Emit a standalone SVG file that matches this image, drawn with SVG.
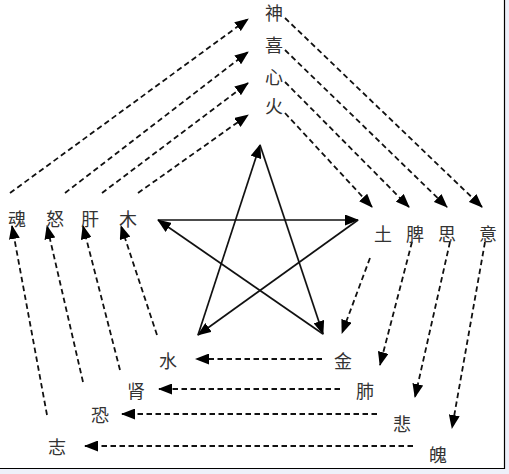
<svg xmlns="http://www.w3.org/2000/svg" width="509" height="474" viewBox="0 0 509 474">
<style>
text{font-family:"Noto Sans CJK SC","Noto Sans CJK JP",sans-serif;font-size:18px;fill:#333;text-anchor:middle;dominant-baseline:central}
.s{stroke:#111;stroke-width:1.7;fill:none}
.d{stroke:#111;stroke-width:1.8;fill:none;stroke-dasharray:5.5,3.5}
</style>
<defs>
<marker id="ah" viewBox="0 0 14 11" refX="13" refY="5.5" markerWidth="14" markerHeight="11" markerUnits="userSpaceOnUse" orient="auto"><path d="M0,0 L14,5.5 L0,11 z" fill="#000"/></marker>
</defs>
<rect width="509" height="474" fill="#eef0fa"/>
<rect width="504.5" height="468" fill="#fff"/>
<path d="M504.5,0 V468.5 H0" stroke="#000" stroke-width="1.2" fill="none"/>
<g id="connectors">
<g id="star">
<line class="s" x1="158" y1="220" x2="358" y2="220" marker-end="url(#ah)"/>
<line class="s" x1="358" y1="220" x2="198" y2="335" marker-end="url(#ah)"/>
<line class="s" x1="198" y1="335" x2="260" y2="145" marker-end="url(#ah)"/>
<line class="s" x1="260" y1="145" x2="323" y2="334" marker-end="url(#ah)"/>
<line class="s" x1="323" y1="334" x2="158" y2="220" marker-end="url(#ah)"/>
</g>
<g id="dashed">
<line class="d" x1="10" y1="193" x2="248" y2="19" marker-end="url(#ah)"/>
<line class="d" x1="65" y1="193" x2="248" y2="52" marker-end="url(#ah)"/>
<line class="d" x1="102" y1="193" x2="248" y2="83" marker-end="url(#ah)"/>
<line class="d" x1="138" y1="193" x2="248" y2="115" marker-end="url(#ah)"/>
<line class="d" x1="285" y1="18" x2="482" y2="207" marker-end="url(#ah)"/>
<line class="d" x1="285" y1="50" x2="447" y2="207" marker-end="url(#ah)"/>
<line class="d" x1="285" y1="82" x2="409" y2="207" marker-end="url(#ah)"/>
<line class="d" x1="285" y1="113" x2="372" y2="207" marker-end="url(#ah)"/>
<line class="d" x1="370" y1="258" x2="342" y2="333" marker-end="url(#ah)"/>
<line class="d" x1="412" y1="242" x2="380" y2="365" marker-end="url(#ah)"/>
<line class="d" x1="450" y1="242" x2="415" y2="397" marker-end="url(#ah)"/>
<line class="d" x1="485" y1="242" x2="452" y2="428" marker-end="url(#ah)"/>
<line class="d" x1="322" y1="359" x2="196" y2="359" marker-end="url(#ah)"/>
<line class="d" x1="340" y1="389" x2="159" y2="389" marker-end="url(#ah)"/>
<line class="d" x1="377" y1="414" x2="122" y2="414" marker-end="url(#ah)"/>
<line class="d" x1="413" y1="446" x2="85" y2="446" marker-end="url(#ah)"/>
<line class="d" x1="157" y1="335" x2="121" y2="226" marker-end="url(#ah)"/>
<line class="d" x1="120" y1="370" x2="83" y2="226" marker-end="url(#ah)"/>
<line class="d" x1="83" y1="382" x2="47" y2="226" marker-end="url(#ah)"/>
<line class="d" x1="47" y1="415" x2="12" y2="226" marker-end="url(#ah)"/>
</g>
</g>
<g id="n-shen"><text x="274" y="12">神</text></g>
<g id="n-xi"><text x="274" y="44">喜</text></g>
<g id="n-xin"><text x="274" y="76">心</text></g>
<g id="n-huo"><text x="274" y="105">火</text></g>
<g id="n-hun"><text x="17" y="218">魂</text></g>
<g id="n-nu"><text x="55" y="218">怒</text></g>
<g id="n-gan"><text x="90" y="218">肝</text></g>
<g id="n-mu"><text x="128" y="218">木</text></g>
<g id="n-tu"><text x="383" y="233">土</text></g>
<g id="n-pi"><text x="415" y="233">脾</text></g>
<g id="n-si"><text x="447" y="233">思</text></g>
<g id="n-yi"><text x="488" y="233">意</text></g>
<g id="n-shui"><text x="168" y="360">水</text></g>
<g id="n-jin"><text x="343" y="360">金</text></g>
<g id="n-shen2"><text x="136" y="390">肾</text></g>
<g id="n-fei"><text x="365" y="390">肺</text></g>
<g id="n-kong"><text x="100" y="414">恐</text></g>
<g id="n-bei"><text x="402" y="423">悲</text></g>
<g id="n-zhi"><text x="57" y="446">志</text></g>
<g id="n-po"><text x="438" y="454">魄</text></g>
</svg>
